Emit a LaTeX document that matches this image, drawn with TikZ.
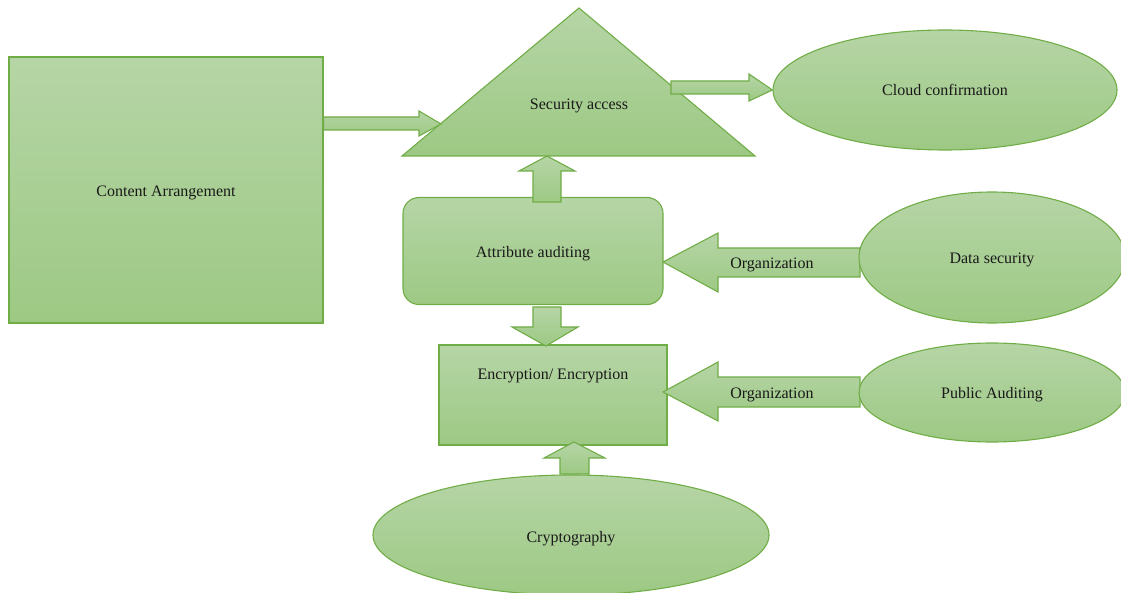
\documentclass[tikz,border=0pt]{standalone}
\usepackage{fontspec}
\setmainfont{Liberation Serif}
\usetikzlibrary{shapes.geometric}
\definecolor{gtop}{RGB}{182,213,166}
\definecolor{gbot}{RGB}{157,201,132}
\definecolor{gline}{RGB}{112,173,71}
\begin{document}
\begin{tikzpicture}[x=1pt,y=-1pt,
  font=\fontsize{16}{18}\selectfont,
  shp/.style={draw=gline, line width=1.1pt, top color=gtop, bottom color=gbot},
  blk/.style={shp, line join=miter},
  boxnode/.style={shp, rectangle, inner sep=0pt},
  ellnode/.style={shp, ellipse, inner sep=0pt},
  lbl/.style={text=black!90, inner sep=0pt}]
\useasboundingbox (0,0) rectangle (1121,593);
\begin{scope}
\clip (0,0) rectangle (1121,593);
% main shapes
\node[boxnode, minimum width=314pt, minimum height=266pt] (cont) at (166,190) {};
\draw[shp] (402,156) -- (579,8) -- (755,156) -- cycle;
\node[ellnode, minimum width=344pt, minimum height=120pt] (cloud) at (945,90) {};
\node[boxnode, rounded corners=16pt, minimum width=260pt, minimum height=107pt] (attr) at (533,251) {};
\node[boxnode, minimum width=228pt, minimum height=100pt] (enc) at (553,395) {};
% block arrows
\draw[blk] (cont.east |- 0,117) -- (419,117) -- (419,111) -- (441,124) -- (419,136) -- (419,130) -- (cont.east |- 0,130) -- cycle;
\draw[blk] (671,81) -- (749,81) -- (749,74) -- (cloud.west) -- (749,101) -- (749,94) -- (671,94) -- cycle;
\draw[blk] (533,202) -- (533,171) -- (519,171) -- (547,156) -- (575,171) -- (561,171) -- (561,202) -- cycle;
\draw[blk] (533,307) -- (533,327) -- (512,327) -- (546,346) -- (578,327) -- (561,327) -- (561,307) -- cycle;
\draw[blk] (860,248) -- (718,248) -- (718,233) -- (663,262) -- (718,292) -- (718,277) -- (860,277) -- cycle;
\draw[blk] (860,377) -- (718,377) -- (718,362) -- (663,392) -- (718,421) -- (718,407) -- (860,407) -- cycle;
\draw[blk] (560,474) -- (560,458) -- (544,458) -- (574,442) -- (605,458) -- (589,458) -- (589,474) -- cycle;
% ellipses on the right and bottom
\node[ellnode, minimum width=266pt, minimum height=131pt] (dsec) at (992,257.5) {};
\node[ellnode, minimum width=266pt, minimum height=99pt] (pub) at (992,392.5) {};
\node[ellnode, minimum width=396pt, minimum height=120pt] (cry) at (571,535) {};
\end{scope}
% labels
\node[lbl] (tsec) at (579,106) {Security access};
\node[lbl] (tcloud) at (945,90) {Cloud confirmation};
\node[lbl] (tcont) at (166,193) {Content Arrangement};
\node[lbl] (tattr) at (533,254) {Attribute auditing};
\node[lbl] (tenc) at (553,376) {Encryption/ Encryption};
\node[lbl] (torg1) at (772,265) {Organization};
\node[lbl] (torg2) at (772,395) {Organization};
\node[lbl] (tdsec) at (992,260) {Data security};
\node[lbl] (tpub) at (992,395) {Public Auditing};
\node[lbl] (tcry) at (571,539) {Cryptography};
\end{tikzpicture}
\end{document}
